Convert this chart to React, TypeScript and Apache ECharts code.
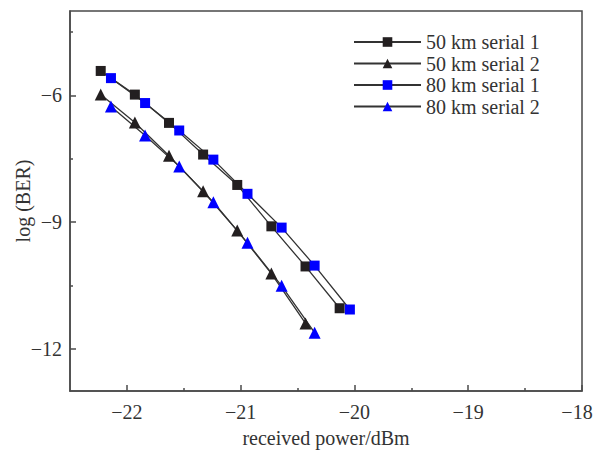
import React, { useEffect, useRef } from "react";
import * as echarts from "echarts";

const power50s1 = [-22.23, -21.93, -21.63, -21.33, -21.03, -20.73, -20.43, -20.13];
const ber50s1 = [-5.42, -5.98, -6.65, -7.4, -8.12, -9.1, -10.05, -11.04];
const power50s2 = [-22.23, -21.93, -21.63, -21.33, -21.03, -20.73, -20.43];
const ber50s2 = [-5.98, -6.64, -7.43, -8.27, -9.2, -10.22, -11.4];
const power80s1 = [-22.14, -21.84, -21.54, -21.24, -20.94, -20.64, -20.35, -20.04];
const ber80s1 = [-5.59, -6.18, -6.83, -7.52, -8.33, -9.13, -10.03, -11.07];
const power80s2 = [-22.14, -21.84, -21.54, -21.24, -20.94, -20.64, -20.35];
const ber80s2 = [-6.26, -6.95, -7.68, -8.53, -9.49, -10.51, -11.62];

const seriesNames = ["50 km serial 1", "50 km serial 2", "80 km serial 1", "80 km serial 2"];

const xMajorTicks = [-22, -21, -20, -19, -18];
const xMinorTicks = [-21.5, -20.5, -19.5, -18.5];
const yMajorTicks = [-12, -9, -6];
const yMinorTicks = [-10.5, -7.5, -4.5];

const FONT = "'Liberation Serif', 'Times New Roman', serif";
const AXIS = "#4a4a4a";
const TEXT = "#333";
const LINE = "#333";
const BLACK = "#231f20";
const BLUE = "#0000ff";

const fmt = (v: number) => String(v).replace("-", "\u2212");

function pairs(xs: number[], ys: number[]) {
  return xs.map((x, i) => [x, ys[i]]);
}

export default function App() {
  const ref = useRef<HTMLDivElement>(null);
  useEffect(() => {
    if (!ref.current) return;
    const chart = echarts.init(ref.current, undefined, { renderer: "svg" });
    const mk = (name: string, data: number[][], symbol: string, size: number, color: string) => ({
      name,
      type: "line",
      data,
      xAxisIndex: 0,
      yAxisIndex: 0,
      symbol,
      symbolSize: size,
      itemStyle: { color },
      lineStyle: { color: LINE, width: 1.3 },
      z: 3,
    });
    chart.setOption({
      animation: false,
      textStyle: { fontFamily: FONT },
      grid: {
        left: 70,
        right: 13,
        top: 11,
        bottom: 63,
        containLabel: false,
        outerBoundsMode: "none",
        show: true,
        borderColor: AXIS,
        borderWidth: 1.5,
      },
      legend: {
        orient: "vertical",
        left: 348,
        top: 27,
        itemWidth: 67,
        itemHeight: 12,
        itemGap: 1.5,
        data: seriesNames,
        textStyle: {
          fontFamily: FONT,
          fontSize: 20,
          color: TEXT,
        },
      },
      xAxis: [
        {
          type: "value",
          min: -22.5,
          max: -18,
          position: "bottom",
          name: "received power/dBm",
          nameLocation: "middle",
          nameGap: 37,
          nameMoveOverlap: false,
          nameTextStyle: { fontFamily: FONT, fontSize: 20, color: TEXT },
          axisLine: { lineStyle: { color: AXIS, width: 1.5 } },
          axisTick: { inside: true, length: 6, customValues: xMajorTicks, lineStyle: { color: AXIS, width: 1.5 } },
          axisLabel: {
            customValues: xMajorTicks,
            formatter: (v: number) => (v === -18 ? "{r|" + fmt(v) + "}" : fmt(v)),
            fontFamily: FONT,
            fontSize: 20,
            color: TEXT,
            margin: 11,
            rich: { r: { fontFamily: FONT, fontSize: 20, color: TEXT, padding: [0, 10, 0, 0] } },
          },
          splitLine: { show: false },
        },
        {
          type: "value",
          min: -22.5,
          max: -18,
          position: "bottom",
          axisLine: { show: false },
          axisTick: { inside: true, length: 3, customValues: xMinorTicks, lineStyle: { color: AXIS, width: 1.5 } },
          axisLabel: { show: false },
          splitLine: { show: false },
        },
      ],
      yAxis: [
        {
          type: "value",
          min: -13,
          max: -4,
          position: "left",
          name: "log (BER)",
          nameLocation: "middle",
          nameGap: 37,
          nameMoveOverlap: false,
          nameTextStyle: { fontFamily: FONT, fontSize: 20, color: TEXT },
          axisLine: { show: true, lineStyle: { color: AXIS, width: 1.5 } },
          axisTick: { show: true, inside: true, length: 6, customValues: yMajorTicks, lineStyle: { color: AXIS, width: 1.5 } },
          axisLabel: {
            customValues: yMajorTicks,
            formatter: fmt,
            fontFamily: FONT,
            fontSize: 20,
            color: TEXT,
            margin: 8,
          },
          splitLine: { show: false },
        },
        {
          type: "value",
          min: -13,
          max: -4,
          position: "left",
          axisLine: { show: false },
          axisTick: { show: true, inside: true, length: 3, customValues: yMinorTicks, lineStyle: { color: AXIS, width: 1.5 } },
          axisLabel: { show: false },
          splitLine: { show: false },
        },
      ],
      series: [
        mk(seriesNames[0], pairs(power50s1, ber50s1), "rect", 10, BLACK),
        mk(seriesNames[1], pairs(power50s2, ber50s2), "triangle", 12, BLACK),
        mk(seriesNames[2], pairs(power80s1, ber80s1), "rect", 10, BLUE),
        mk(seriesNames[3], pairs(power80s2, ber80s2), "triangle", 12, BLUE),
      ],
    });
    return () => chart.dispose();
  }, []);
  return <div ref={ref} style={{ width: 595, height: 454, position: "fixed", left: 0, top: 0, background: "#fff" }} />;
}
